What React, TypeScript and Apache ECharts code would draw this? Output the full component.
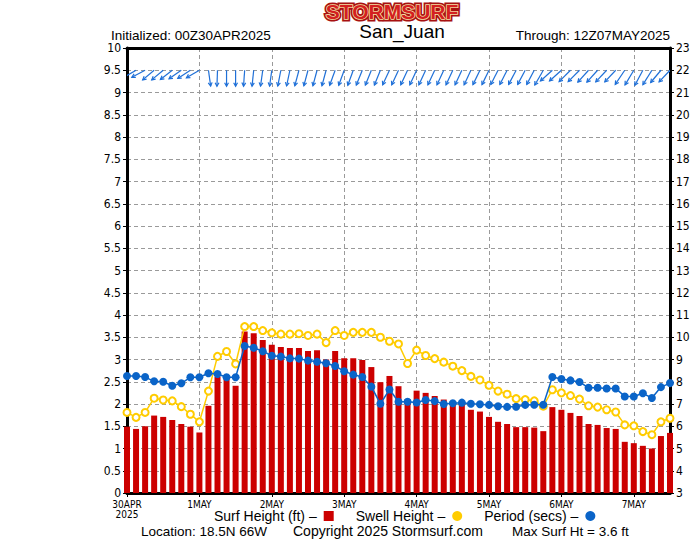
import React, { useEffect, useRef } from "react";
import * as echarts from "echarts";

// ---- data (3-hourly, 00Z30APR2025 .. 12Z07MAY2025) ----
const days = ["30APR", "1MAY", "2MAY", "3MAY", "4MAY", "5MAY", "6MAY", "7MAY"];
const hoursOfDay = ["00Z", "03Z", "06Z", "09Z", "12Z", "15Z", "18Z", "21Z"];
const yearLabel = "2025";

const surfHeight = [
  1.49, 1.44, 1.5, 1.74, 1.71, 1.64, 1.55, 1.49, 1.36, 1.96,
  2.61, 2.6, 2.41, 3.63, 3.59, 3.44, 3.33, 3.28, 3.26, 3.26,
  3.19, 3.21, 3.0, 3.19, 3.03, 3.03, 2.99, 2.83, 2.49, 2.63,
  2.4, 2.11, 2.3, 2.25, 2.18, 2.1, 2.0, 1.98, 1.87, 1.83,
  1.71, 1.6, 1.55, 1.48, 1.48, 1.47, 1.39, 1.93, 1.87, 1.8,
  1.73, 1.55, 1.53, 1.46, 1.44, 1.15, 1.12, 1.06, 1.0, 1.28,
  1.35,
];
const swellHeight = [
  1.81, 1.7, 1.81, 2.13, 2.09, 2.07, 1.94, 1.77, 1.6, 2.29,
  3.07, 3.18, 2.9, 3.74, 3.74, 3.65, 3.6, 3.57, 3.57, 3.58,
  3.54, 3.57, 3.38, 3.65, 3.54, 3.61, 3.61, 3.61, 3.5, 3.41,
  3.35, 2.91, 3.21, 3.09, 3.02, 2.94, 2.85, 2.75, 2.62, 2.54,
  2.42, 2.29, 2.22, 2.12, 2.1, 2.07, 1.95, 2.32, 2.25, 2.19,
  2.11, 1.96, 1.93, 1.87, 1.82, 1.53, 1.51, 1.38, 1.31, 1.6,
  1.68,
];
const periodSecs = [
  8.26, 8.26, 8.21, 8.02, 8.0, 7.82, 7.93, 8.2, 8.2, 8.38,
  8.35, 8.2, 8.2, 9.61, 9.53, 9.37, 9.17, 9.13, 9.05, 9.04,
  8.95, 8.9, 8.83, 8.71, 8.47, 8.32, 8.21, 7.78, 7.01, 7.65,
  7.1, 7.1, 7.07, 7.18, 7.13, 7.0, 7.03, 7.06, 7.01, 6.99,
  6.96, 6.9, 6.87, 6.88, 6.96, 6.97, 6.97, 8.21, 8.12, 8.06,
  7.99, 7.73, 7.73, 7.7, 7.7, 7.34, 7.34, 7.48, 7.27, 7.76,
  7.94,
];
// wind direction (degrees, coming from) and speed (kt)
const windFrom = [
  60, 60, 62, 50, 50, 52, 55, 57, 60, 352,
  2, 0, 0, 4, 6, 8, 8, 11, 12, 15,
  15, 15, 15, 20, 20, 20, 22, 22, 22, 25,
  25, 25, 25, 25, 25, 25, 25, 25, 25, 26,
  26, 27, 27, 28, 28, 28, 30, 48, 48, 45,
  45, 42, 42, 43, 43, 34, 31, 28, 32, 40,
  43,
];
const windSpeed = [
  15, 15, 15, 15, 15, 15, 15, 15, 15, 16,
  16, 16, 16, 16, 16, 16, 16, 16, 16, 16,
  16, 16, 16, 16, 16, 16, 16, 16, 16, 16,
  16, 16, 16, 16, 16, 16, 16, 16, 16, 16,
  16, 16, 16, 16, 16, 16, 17, 16, 16, 16,
  16, 16, 16, 16, 16, 17, 17, 17, 17, 16,
  16,
];

const stationName = "San_Juan";
const initLabel = "Initialized: 00Z30APR2025";
const throughLabel = "Through: 12Z07MAY2025";
const locationLabel = "Location: 18.5N 66W";
const copyrightLabel = "Copyright 2025 Stormsurf.com";

const categories = days
  .flatMap((d) => hoursOfDay.map((h) => h + d))
  .slice(0, surfHeight.length);

const SANS = '"Liberation Sans", Arial, sans-serif';
const NARROW = '"Liberation Sans Narrow", "DejaVu Sans Condensed", "Liberation Sans", sans-serif';
const WIND_LEVEL = 9.5;

export default function App() {
  const ref = useRef<HTMLDivElement>(null);
  useEffect(() => {
    document.body.style.margin = "0";
    const chart = echarts.init(ref.current!, undefined, { renderer: "svg" });
    const maxSurf = Math.max(...surfHeight).toFixed(1);
    const gridLine = { show: true, lineStyle: { color: "#9a9a9a", type: [4, 3] as any, width: 1 } };
    const dayIdx = (i: number) => i % 8 === 0;

    const option: any = {
      animation: false,
      backgroundColor: "#ffffff",
      textStyle: { fontFamily: SANS },
      grid: { left: 127, right: 30, top: 48, bottom: 47, containLabel: false },
      legend: {
        left: 214,
        top: 509,
        align: "right",
        itemGap: 22,
        itemWidth: 10,
        itemHeight: 10,
        padding: 0,
        formatter: "{name} \u2013",
        textStyle: { fontFamily: SANS, fontSize: 14, color: "#000", padding: [0, 2, 0, 0] },
        data: [
          { name: "Surf Height (ft)", icon: "rect", itemStyle: { color: "#cc0000" } },
          { name: "Swell Height", icon: "circle", itemStyle: { color: "#ffcc00", borderWidth: 0 } },
          { name: "Period (secs)", icon: "circle", itemStyle: { color: "#0a64c8", borderWidth: 0 } },
        ],
      },
      xAxis: [
        {
          type: "category",
          data: categories,
          boundaryGap: false,
          axisLine: { show: true, lineStyle: { color: "#000", width: 3 } },
          axisTick: { show: true, interval: dayIdx, length: 4, lineStyle: { color: "#000" } },
          axisLabel: {
            interval: dayIdx,
            fontFamily: NARROW,
            fontSize: 10,
            color: "#000",
            margin: 6,
            lineHeight: 10,
            formatter: (v: string, i: number) =>
              i === 0 ? v.slice(3) + "\n" + yearLabel : v.slice(3),
          },
          splitLine: { ...gridLine, interval: dayIdx },
        },
        {
          type: "category",
          data: categories,
          boundaryGap: false,
          position: "top",
          axisLine: { show: true, lineStyle: { color: "#000", width: 3 } },
          axisTick: { show: false },
          axisLabel: { show: false },
          splitLine: { show: false },
        },
      ],
      yAxis: [
        {
          type: "value",
          min: 0,
          max: 10,
          interval: 0.5,
          axisLine: { show: true, lineStyle: { color: "#000", width: 3 } },
          axisTick: { show: true, length: 4, lineStyle: { color: "#000" } },
          axisLabel: { fontFamily: NARROW, fontSize: 12, lineHeight: 11, color: "#000", margin: 6 },
          splitLine: gridLine,
        },
        {
          type: "value",
          min: 3,
          max: 23,
          interval: 1,
          position: "right",
          axisLine: { show: true, lineStyle: { color: "#000", width: 3 } },
          axisTick: { show: true, length: 4, lineStyle: { color: "#000" } },
          axisLabel: { fontFamily: NARROW, fontSize: 12, lineHeight: 11, color: "#000", margin: 6 },
          splitLine: { show: false },
        },
      ],
      series: [
        {
          name: "Surf Height (ft)",
          type: "bar",
          data: surfHeight,
          barWidth: 6,
          clip: true,
          itemStyle: { color: "#cc0000" },
          z: 2,
        },
        {
          name: "Swell Height",
          type: "line",
          data: swellHeight,
          symbol: "emptyCircle",
          symbolSize: 7,
          showAllSymbol: true,
          clip: true,
          lineStyle: { color: "#ffcc00", width: 1.5 },
          itemStyle: { color: "#ffcc00", borderColor: "#ffcc00", borderWidth: 1.5 },
          z: 3,
        },
        {
          name: "Period (secs)",
          type: "line",
          yAxisIndex: 1,
          data: periodSecs,
          symbol: "circle",
          symbolSize: 8,
          showAllSymbol: true,
          clip: true,
          lineStyle: { color: "#0a64c8", width: 1.5 },
          itemStyle: { color: "#0a64c8" },
          z: 4,
        },
        {
          name: "Wind",
          type: "custom",
          clip: true,
          data: windFrom.map((d, i) => [i, WIND_LEVEL, d, windSpeed[i]]),
          encode: { x: 0, y: 1 },
          z: 5,
          renderItem: (params: any, api: any) => {
            const p = api.coord([api.value(0), api.value(1)]);
            const dir = api.value(2) as number;
            const spd = api.value(3) as number;
            const t = ((dir + 180) * Math.PI) / 180;
            const hx = p[0] + Math.sin(t) * spd;
            const hy = p[1] - Math.cos(t) * spd;
            const ang = Math.atan2(hy - p[1], hx - p[0]);
            const hl = 4;
            const ha = 0.5;
            const b1 = [hx - hl * Math.cos(ang - ha), hy - hl * Math.sin(ang - ha)];
            const b2 = [hx - hl * Math.cos(ang + ha), hy - hl * Math.sin(ang + ha)];
            const color = "#1f70d8";
            return {
              type: "group",
              children: [
                {
                  type: "line",
                  shape: { x1: p[0], y1: p[1], x2: hx, y2: hy },
                  style: { stroke: color, lineWidth: 1.2 },
                },
                {
                  type: "polyline",
                  shape: { points: [b1, [hx, hy], b2] },
                  style: { stroke: color, lineWidth: 1.2, fill: null },
                },
              ],
            };
          },
        },
      ],
      graphic: [
        {
          type: "text",
          x: 392,
          y: 11,
          style: {
            text: "STORMSURF",
            font: 'bold 21px "Liberation Sans", Arial, sans-serif',
            align: "center",
            verticalAlign: "middle",
            fill: "#d42020",
            stroke: "#a81010",
            lineWidth: 5,
          },
        },
        {
          type: "text",
          x: 392,
          y: 11,
          style: {
            text: "STORMSURF",
            font: 'bold 21px "Liberation Sans", Arial, sans-serif',
            align: "center",
            verticalAlign: "middle",
            fill: "#d42020",
            stroke: "#f6e3a8",
            lineWidth: 1.6,
          },
        },
        {
          type: "text",
          x: 111,
          y: 35,
          style: {
            text: initLabel,
            font: `13.5px ${SANS}`,
            align: "left",
            verticalAlign: "middle",
            fill: "#000",
          },
        },
        {
          type: "text",
          x: 402,
          y: 31,
          style: {
            text: stationName,
            font: `19px ${SANS}`,
            align: "center",
            verticalAlign: "middle",
            fill: "#000",
          },
        },
        {
          type: "text",
          x: 670,
          y: 35,
          style: {
            text: throughLabel,
            font: `13.5px ${SANS}`,
            align: "right",
            verticalAlign: "middle",
            fill: "#000",
          },
        },
        {
          type: "text",
          x: 141,
          y: 531,
          style: {
            text: locationLabel,
            font: `13.5px ${SANS}`,
            align: "left",
            verticalAlign: "middle",
            fill: "#000",
          },
        },
        {
          type: "text",
          x: 293,
          y: 531,
          style: {
            text: copyrightLabel,
            font: `14px ${SANS}`,
            align: "left",
            verticalAlign: "middle",
            fill: "#000",
          },
        },
        {
          type: "text",
          x: 512,
          y: 531,
          style: {
            text: `Max Surf Ht = ${maxSurf} ft`,
            font: `13.5px ${SANS}`,
            align: "left",
            verticalAlign: "middle",
            fill: "#000",
          },
        },
      ],
    };
    chart.setOption(option);
    return () => chart.dispose();
  }, []);
  return <div ref={ref} style={{ width: 700, height: 540 }} />;
}
